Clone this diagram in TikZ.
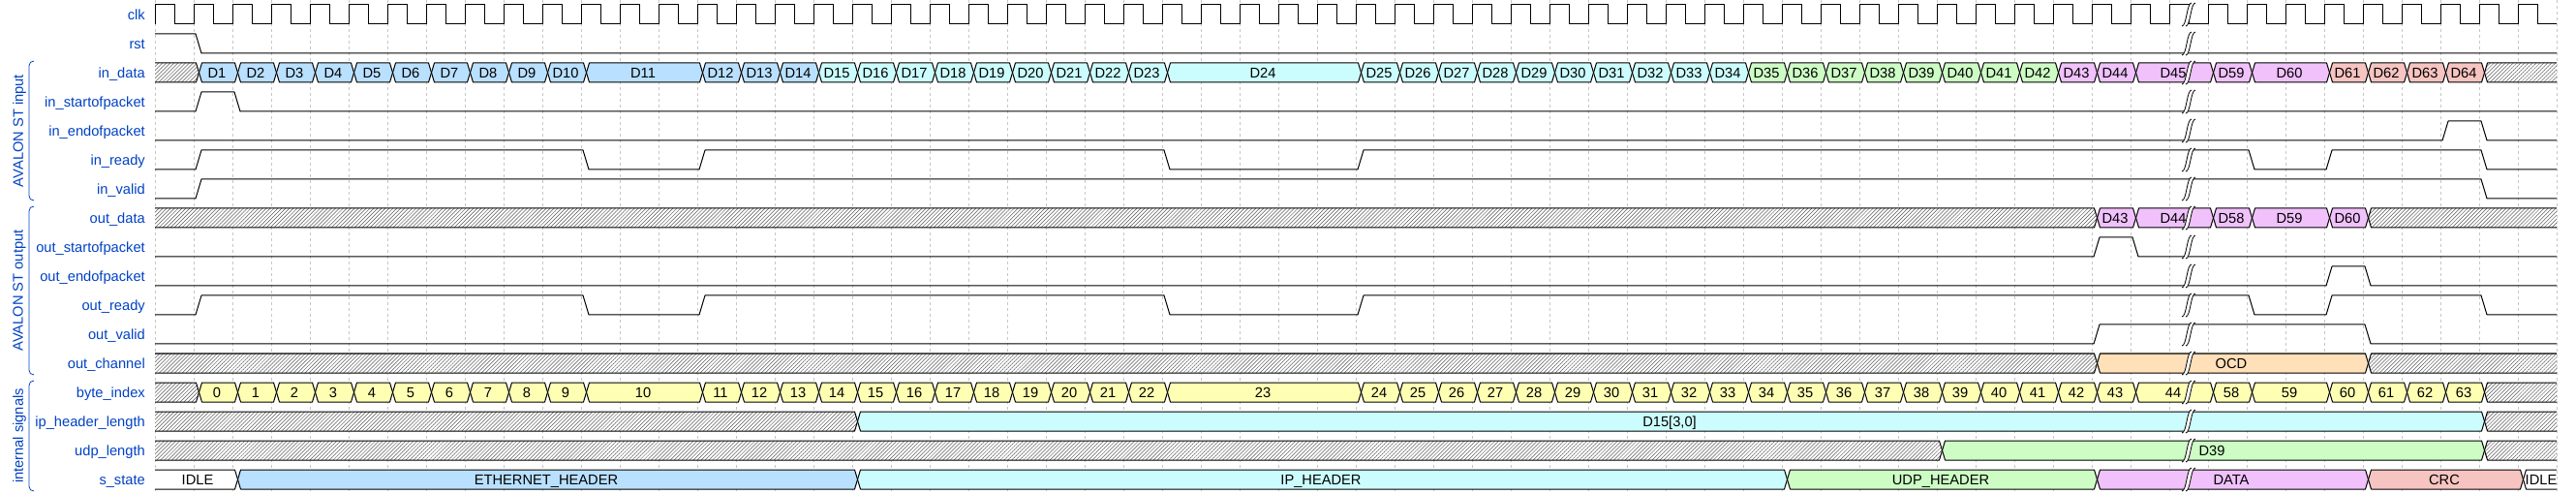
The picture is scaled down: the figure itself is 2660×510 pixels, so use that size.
\documentclass[tikz,border=0pt]{standalone}
\usepackage{fontspec}
\setmainfont{Liberation Sans}
\usetikzlibrary{patterns.meta}

\definecolor{wlabel}{HTML}{0041C4}
\definecolor{wyellow}{HTML}{FFFFB4}
\definecolor{worange}{HTML}{FFE0B9}
\definecolor{wblue}{HTML}{B9E0FF}
\definecolor{wcyan}{HTML}{CCFDFE}
\definecolor{wgreen}{HTML}{CDFDC5}
\definecolor{wpurple}{HTML}{F0C1FB}
\definecolor{wred}{HTML}{F6C4C1}

\tikzset{
  wave/.style={line width=1pt, line join=round},
  gridline/.style={gray!45, line width=0.6pt, dash pattern=on 3pt off 3pt},
  siglabel/.style={anchor=base east, inner sep=0pt, text=wlabel, font=\fontsize{14.67}{17}\selectfont},
  boxtext/.style={anchor=base, inner sep=0pt, font=\fontsize{14.67}{17}\selectfont},
  grouplabel/.style={rotate=90, inner sep=0pt, text=wlabel, font=\fontsize{14.67}{17}\selectfont},
  bracket/.style={wlabel, line width=0.8pt},
  hatch/.style={pattern={Lines[angle=45,distance=2.8pt,line width=0.5pt]}, pattern color=black!65},
}

% row, from, to, colour, text
\newcommand{\dbox}[5]{%
  \pgfmathsetmacro{\wvL}{ifthenelse(#2==0,140,160+40*(#2))}%
  \pgfmathsetmacro{\wvR}{ifthenelse(#3==62,2660,160+40*(#3))}%
  \pgfmathsetmacro{\wvT}{5+30*#1}%
  \pgfmathsetmacro{\wvC}{164+20*(#2+#3)}%
  \draw[wave, fill=#4] ({\wvL+5.5},{\wvT+10}) -- ({\wvL+8.5},\wvT) -- ({\wvR+2.5},\wvT)
    -- ({\wvR+5.5},{\wvT+10}) -- ({\wvR+2.5},{\wvT+20}) -- ({\wvL+8.5},{\wvT+20}) -- cycle;
  \node[boxtext] at (\wvC,{\wvT+15.5}) {#5};
}
% row, from, to
\newcommand{\xbox}[3]{%
  \pgfmathsetmacro{\wvL}{ifthenelse(#2==0,140,160+40*(#2))}%
  \pgfmathsetmacro{\wvR}{ifthenelse(#3==62,2660,160+40*(#3))}%
  \pgfmathsetmacro{\wvT}{5+30*#1}%
  \draw[wave, preaction={fill=white}, hatch] ({\wvL+5.5},{\wvT+10}) -- ({\wvL+8.5},\wvT) -- ({\wvR+2.5},\wvT)
    -- ({\wvR+5.5},{\wvT+10}) -- ({\wvR+2.5},{\wvT+20}) -- ({\wvL+8.5},{\wvT+20}) -- cycle;
}
% row, first level, edges, last level
\newcommand{\dsig}[4]{%
  \draw[wave] (140,{25+30*#1-20*#2}) \foreach \tc/\la/\lb in {#3} {
    -- ({162+40*\tc},{25+30*#1-20*\la}) -- ({168+40*\tc},{25+30*#1-20*\lb}) }
    -- (2660,{25+30*#1-20*#4});
}

\begin{document}
\begin{tikzpicture}[x=1pt, y=-1pt]
\useasboundingbox (0,0) rectangle (2660,510);

\foreach \k in {0,...,62}
  \draw[gridline] ({160+40*\k},0) -- ({160+40*\k},510);

\foreach \r/\n in {0/clk, 1/rst, 2/in\_data, 3/in\_startofpacket, 4/in\_endofpacket,
    5/in\_ready, 6/in\_valid, 7/out\_data, 8/out\_startofpacket, 9/out\_endofpacket,
    10/out\_ready, 11/out\_valid, 12/out\_channel, 13/byte\_index, 14/ip\_header\_length,
    15/udp\_length, 16/s\_state}
  \node[siglabel] (sig\r) at (150,{20.5+30*\r}) {\n};

\node[grouplabel] (grpin) at (20,135) {AVALON ST input};
\draw[bracket] (35,63) .. controls (32,63) and (30,65) .. (30,68) -- (30,202) .. controls (30,205) and (32,207) .. (35,207);
\node[grouplabel] (grpout) at (20,300) {AVALON ST output};
\draw[bracket] (35,213) .. controls (32,213) and (30,215) .. (30,218) -- (30,382) .. controls (30,385) and (32,387) .. (35,387);
\node[grouplabel] (grpint) at (20,450) {internal signals};
\draw[bracket] (35,393) .. controls (32,393) and (30,395) .. (30,398) -- (30,502) .. controls (30,505) and (32,507) .. (35,507);

\begin{scope}
\clip (160,-5) rectangle (2640,515);

\draw[wave] (160,25) \foreach \k in {0,...,61} {
  -- ({160+40*\k},5) -- ({180+40*\k},5) -- ({180+40*\k},25) -- ({200+40*\k},25) };
\dsig{1}{1}{1/1/0}{0}

\xbox{2}{0}{1}
\foreach \n in {1,...,10} {\dbox{2}{\n}{\n+1}{wblue}{D\n}}
\dbox{2}{11}{14}{wblue}{D11}
\foreach \n in {12,13,14} {\dbox{2}{\n+2}{\n+3}{wblue}{D\n}}
\foreach \n in {15,...,23} {\dbox{2}{\n+2}{\n+3}{wcyan}{D\n}}
\dbox{2}{26}{31}{wcyan}{D24}
\foreach \n in {25,...,34} {\dbox{2}{\n+6}{\n+7}{wcyan}{D\n}}
\foreach \n in {35,...,42} {\dbox{2}{\n+6}{\n+7}{wgreen}{D\n}}
\foreach \n in {43,44} {\dbox{2}{\n+6}{\n+7}{wpurple}{D\n}}
\dbox{2}{51}{53}{wpurple}{D45}
\dbox{2}{53}{54}{wpurple}{D59}
\dbox{2}{54}{56}{wpurple}{D60}
\foreach \n in {61,...,64} {\dbox{2}{\n-5}{\n-4}{wred}{D\n}}
\xbox{2}{60}{62}

\dsig{3}{0}{1/0/1, 2/1/0}{0}
\dsig{4}{0}{59/0/1, 60/1/0}{0}
\dsig{5}{0}{1/0/1, 11/1/0, 14/0/1, 26/1/0, 31/0/1, 54/1/0, 56/0/1, 60/1/0}{0}
\dsig{6}{0}{1/0/1, 60/1/0}{0}

\xbox{7}{0}{50}
\dbox{7}{50}{51}{wpurple}{D43}
\dbox{7}{51}{53}{wpurple}{D44}
\dbox{7}{53}{54}{wpurple}{D58}
\dbox{7}{54}{56}{wpurple}{D59}
\dbox{7}{56}{57}{wpurple}{D60}
\xbox{7}{57}{62}

\dsig{8}{0}{50/0/1, 51/1/0}{0}
\dsig{9}{0}{56/0/1, 57/1/0}{0}
\dsig{10}{0}{1/0/1, 11/1/0, 14/0/1, 26/1/0, 31/0/1, 54/1/0, 56/0/1, 60/1/0}{0}
\dsig{11}{0}{50/0/1, 57/1/0}{0}

\xbox{12}{0}{50}
\dbox{12}{50}{57}{worange}{OCD}
\xbox{12}{57}{62}

\xbox{13}{0}{1}
\foreach \n in {0,...,9} {\dbox{13}{\n+1}{\n+2}{wyellow}{\n}}
\dbox{13}{11}{14}{wyellow}{10}
\foreach \n in {11,...,22} {\dbox{13}{\n+3}{\n+4}{wyellow}{\n}}
\dbox{13}{26}{31}{wyellow}{23}
\foreach \n in {24,...,43} {\dbox{13}{\n+7}{\n+8}{wyellow}{\n}}
\dbox{13}{51}{53}{wyellow}{44}
\dbox{13}{53}{54}{wyellow}{58}
\dbox{13}{54}{56}{wyellow}{59}
\foreach \n in {60,...,63} {\dbox{13}{\n-4}{\n-3}{wyellow}{\n}}
\xbox{13}{60}{62}

\xbox{14}{0}{18}
\dbox{14}{18}{60}{wcyan}{D15[3,0]}
\xbox{14}{60}{62}

\xbox{15}{0}{46}
\dbox{15}{46}{60}{wgreen}{D39}
\xbox{15}{60}{62}

\dbox{16}{0}{2}{white}{IDLE}
\dbox{16}{2}{18}{wblue}{ETHERNET\_HEADER}
\dbox{16}{18}{42}{wcyan}{IP\_HEADER}
\dbox{16}{42}{50}{wgreen}{UDP\_HEADER}
\dbox{16}{50}{57}{wpurple}{DATA}
\dbox{16}{57}{61}{wred}{CRC}
\dbox{16}{61}{62}{white}{IDLE}

\foreach \r in {0,...,16} {
  \fill[white] (2253,{27+30*\r}) .. controls (2258,{27+30*\r}) and (2258,{3+30*\r}) .. (2263,{3+30*\r})
    -- (2267,{3+30*\r}) .. controls (2262,{3+30*\r}) and (2262,{27+30*\r}) .. (2257,{27+30*\r}) -- cycle;
  \draw[line width=0.8pt] (2253,{27+30*\r}) .. controls (2258,{27+30*\r}) and (2258,{3+30*\r}) .. (2263,{3+30*\r});
  \draw[line width=0.8pt] (2257,{27+30*\r}) .. controls (2262,{27+30*\r}) and (2262,{3+30*\r}) .. (2267,{3+30*\r});
}
\end{scope}
\end{tikzpicture}
\end{document}
